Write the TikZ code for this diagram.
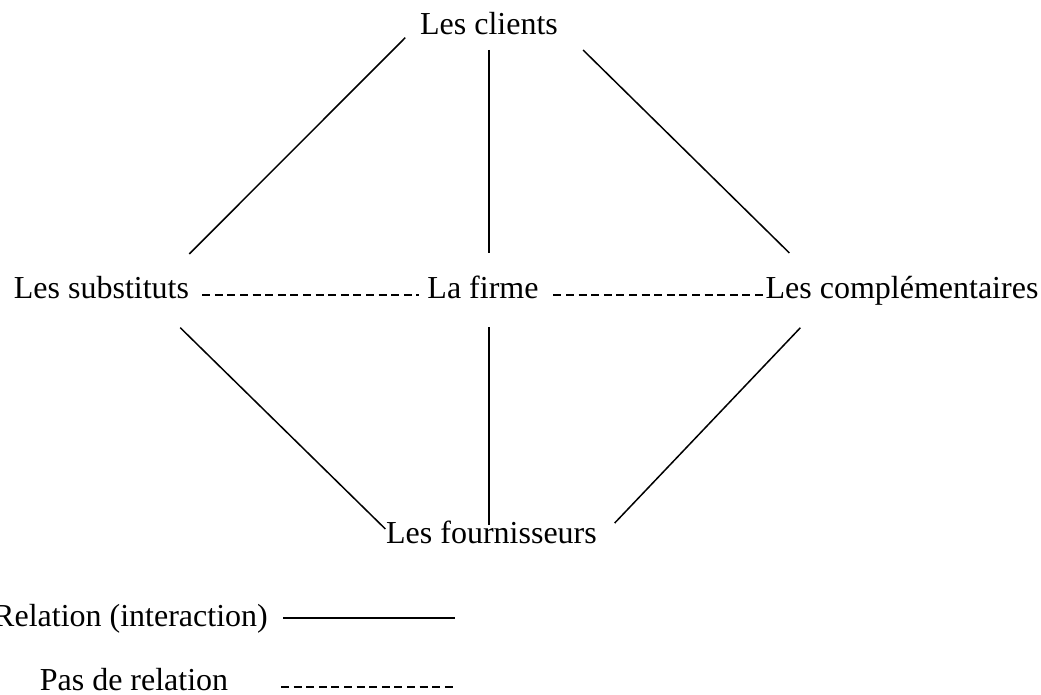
\documentclass[tikz,border=0pt]{standalone}
\usepackage{fontspec}
\setmainfont{Liberation Serif}
\begin{document}
\begin{tikzpicture}[x=1pt,y=-1pt,
  lbl/.style={anchor=base,inner sep=0pt,font=\fontsize{32}{38}\selectfont},
  rel/.style={line width=1.5pt},
  norel/.style={line width=1.3pt,dash pattern=on 8pt off 4.6pt}]
\useasboundingbox (0,0) rectangle (1041,695);
\node[lbl] (clients) at (489,35) {Les clients};
\node[lbl] (subst) at (101.5,298) {Les substituts};
\node[lbl] (firme) at (483,298) {La firme};
\node[lbl] (compl) at (902,298) {Les complémentaires};
\node[lbl] (fourn) at (491.5,543) {Les fournisseurs};
\node[lbl] (relleg) at (130.5,626) {Relation (interaction)};
\node[lbl] (pasleg) at (134,690) {Pas de relation};
\coordinate (relA) at (283,618);
\coordinate (relB) at (455,618);
\coordinate (pasA) at (281,687);
\coordinate (pasB) at (453,687);
% relations
\draw[rel] ([shift={(-14.7,2.7)}]clients.base west) -- ([shift={(0,-44)}]subst.base east);
\draw[rel] ([shift={(0,15)}]clients.base) -- ([shift={(6,-45)}]firme.base);
\draw[rel] ([shift={(25,15)}]clients.base east) -- ([shift={(24,-45)}]compl.base west);
\draw[rel] ([shift={(-9,29.7)}]subst.base east) -- ([shift={(-0.6,-14)}]fourn.base west);
\draw[rel] ([shift={(6,29)}]firme.base) -- ([shift={(-2.5,-18)}]fourn.base);
\draw[rel] ([shift={(35,29.7)}]compl.base west) -- ([shift={(17.7,-20)}]fourn.base east);
% no relation
\draw[norel] ([shift={(13,-3)}]subst.base east) -- ([shift={(-8,-3)}]firme.base west);
\draw[norel] ([shift={(14.7,-3)}]firme.base east) -- ([shift={(1,-3)}]compl.base west);
% legend
\draw[rel] (relA) -- (relB);
\draw[norel] (pasA) -- (pasB);
\end{tikzpicture}
\end{document}
